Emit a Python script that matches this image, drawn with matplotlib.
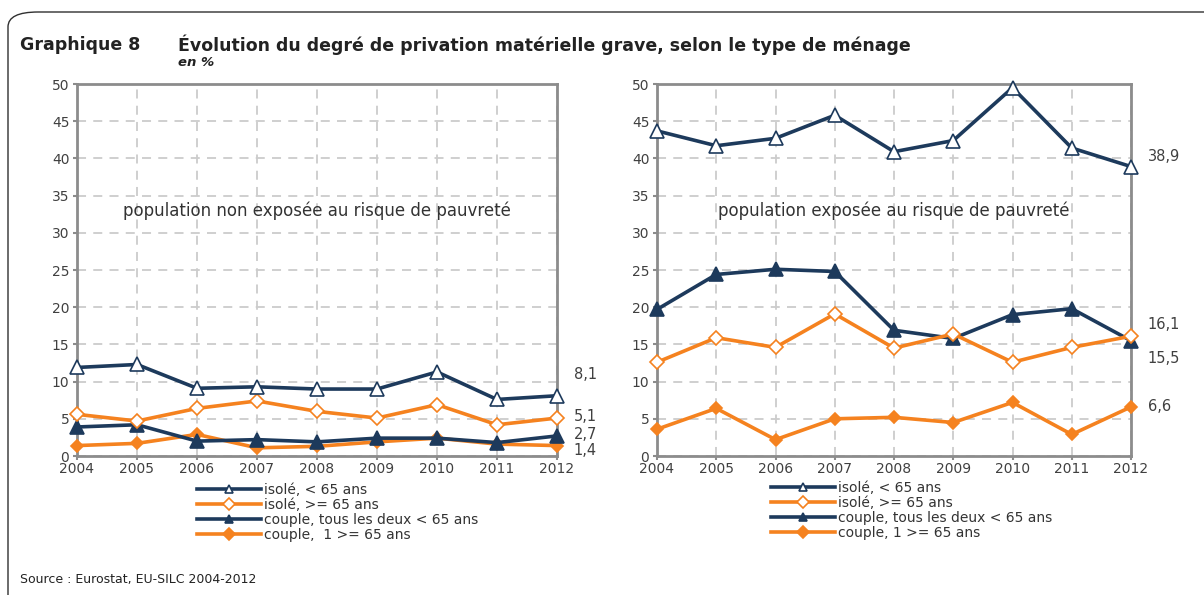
import numpy as np
import matplotlib
matplotlib.use('Agg')
import matplotlib.pyplot as plt
from matplotlib.patches import FancyBboxPatch

plt.rcParams.update({
    'font.family': 'DejaVu Sans', 'font.size': 10,
})

# ── data ──────────────────────────────────────────────────────────────────────
years = [2004, 2005, 2006, 2007, 2008, 2009, 2010, 2011, 2012]
labels = ['isolé, < 65 ans', 'isolé, >= 65 ans',
          'couple, tous les deux < 65 ans']
label_c65_left = 'couple,  1 >= 65 ans'
label_c65_right = 'couple, 1 >= 65 ans'

# population non exposée au risque de pauvreté
np_isole_lt65  = [11.9, 12.3, 9.1, 9.3, 9.0, 9.0, 11.3, 7.6, 8.1]
np_isole_ge65  = [5.6, 4.7, 6.4, 7.4, 6.0, 5.1, 6.9, 4.2, 5.1]
np_couple_lt65 = [3.9, 4.2, 2.0, 2.2, 1.9, 2.4, 2.4, 1.8, 2.7]
np_couple_ge65 = [1.4, 1.7, 2.9, 1.1, 1.3, 1.9, 2.4, 1.6, 1.4]

# population exposée au risque de pauvreté
p_isole_lt65  = [43.7, 41.7, 42.7, 45.8, 40.9, 42.4, 49.5, 41.4, 38.9]
p_isole_ge65  = [12.6, 15.9, 14.6, 19.1, 14.5, 16.4, 12.6, 14.6, 16.1]
p_couple_lt65 = [19.7, 24.4, 25.1, 24.8, 16.9, 15.8, 19.0, 19.8, 15.5]
p_couple_ge65 = [3.6, 6.4, 2.2, 5.0, 5.2, 4.5, 7.2, 2.9, 6.6]

end_labels_left  = ['8,1', '5,1', '2,7', '1,4']
end_labels_right = ['38,9', '16,1', '15,5', '6,6']

NAVY = '#1d3a5c'
ORANGE = '#f5821f'
GRID = '#cccccc'
SPINE = '#8c8c8c'
TXT = '#404040'

fig = plt.figure(figsize=(12.04, 5.95), dpi=100)
fig.patch.set_facecolor('white')

# rounded frame
frame = FancyBboxPatch((8 / 1204, -0.1), 1.2, 1 - 12 / 595 + 0.1,
                       boxstyle='round,pad=0,rounding_size=0.025',
                       transform=fig.transFigure, fill=False,
                       ec='#303030', lw=1.0, clip_on=False)
fig.patches.append(frame)

fig.text(20 / 1204, 1 - 45 / 595, 'Graphique 8', fontsize=12.5,
         fontweight='bold', color='#222222', va='center')
fig.text(178 / 1204, 1 - 45 / 595,
         'Évolution du degré de privation matérielle grave, selon le type de ménage',
         fontsize=12.5, fontweight='bold', color='#222222', va='center')
fig.text(178 / 1204, 1 - 63 / 595, 'en %', fontsize=9.5, style='italic',
         fontweight='bold', color='#222222', va='center')
fig.text(20 / 1204, 1 - 579 / 595, 'Source : Eurostat, EU-SILC 2004-2012',
         fontsize=9, color='#222222', va='center')


def panel(rect, series, title, ends, end_y, legend_anchor, last_label):
    ax = fig.add_axes(rect)
    styles = [
        dict(color=NAVY, marker='^', mfc='white', mec=NAVY, ms=10.5),
        dict(color=ORANGE, marker='D', mfc='white', mec=ORANGE, ms=7.5),
        dict(color=NAVY, marker='^', mfc=NAVY, mec=NAVY, ms=9.5),
        dict(color=ORANGE, marker='D', mfc=ORANGE, mec=ORANGE, ms=6.5),
    ]
    names = labels + [last_label]
    # draw back to front: couples first
    lines = [None] * 4
    for i in [3, 2, 1, 0]:
        ln, = ax.plot(years, series[i], lw=2.6, mew=1.2, label=names[i],
                      clip_on=False, zorder=3 + (3 - i) * 0.1, **styles[i])
        lines[i] = ln
    ax.set_xlim(2004, 2012)
    ax.set_ylim(0, 50)
    ax.set_xticks(years)
    ax.set_yticks(np.arange(0, 51, 5))
    ax.grid(True, color=GRID, ls=(0, (5, 4)), lw=1.3)
    ax.set_axisbelow(True)
    for s in ax.spines.values():
        s.set_color(SPINE)
        s.set_linewidth(2)
    ax.tick_params(colors=SPINE, labelcolor=TXT, labelsize=10, length=3,
                   width=1.5)
    ax.tick_params(axis='x', pad=1.5)
    ax.tick_params(axis='y', pad=2.5)
    ax.text(0.5, 0.66, title, transform=ax.transAxes, ha='center',
            va='center', fontsize=12, color='#333333')
    for lab, yv in zip(ends, end_y):
        ax.annotate(lab, xy=(2012, yv), xytext=(12, 0),
                    textcoords='offset points', va='center', ha='left',
                    fontsize=10.5, color=TXT, annotation_clip=False)
    leg = fig.legend(handles=lines, labels=names, loc='upper left',
                     bbox_to_anchor=legend_anchor, frameon=False,
                     handlelength=4.6, handletextpad=0.2, labelspacing=0.08,
                     numpoints=1, fontsize=10, borderpad=0,
                     labelcolor='#333333')
    for h in leg.legend_handles:
        h.set_markersize(6)
        h.set_markeredgewidth(1.2)
    return ax


panel([77 / 1204, 1 - 456 / 595, 480 / 1204, 372 / 595],
      [np_isole_lt65, np_isole_ge65, np_couple_lt65, np_couple_ge65],
      'population non exposée au risque de pauvreté',
      end_labels_left, [11.0, 5.3, 2.9, 0.8],
      (190 / 1204, 1 - 476 / 595), label_c65_left)

panel([657 / 1204, 1 - 456 / 595, 474 / 1204, 372 / 595],
      [p_isole_lt65, p_isole_ge65, p_couple_lt65, p_couple_ge65],
      'population exposée au risque de pauvreté',
      end_labels_right, [40.3, 17.7, 13.1, 6.6],
      (764 / 1204, 1 - 474 / 595), label_c65_right)

fig.savefig('out.png', dpi=100, facecolor='white')
